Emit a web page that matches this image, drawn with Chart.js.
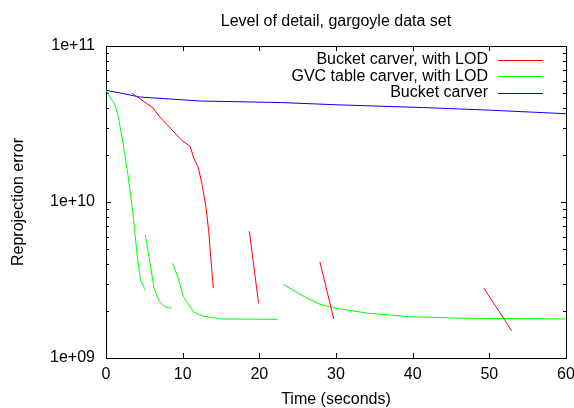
<!DOCTYPE html>
<html>
<head>
<meta charset="utf-8">
<title>Level of detail, gargoyle data set</title>
<script src="https://cdn.jsdelivr.net/npm/chart.js@4.4.1/dist/chart.umd.min.js"></script>
<style>
    html, body { margin: 0; padding: 0; background: #ffffff; }
    #quadro { width: 574px; height: 408px; }
</style>
</head>
<body>
<div id="quadro"><canvas id="graficoLod"></canvas></div>
<script>
"use strict";

/********************************************************************
 * Dados (null separa os trechos de cada série)
 ********************************************************************/
const bucketLodTime  = [3.35, 6.17, 6.8, 9.86, 10.96, 11.48, 12.0, 12.5, 13.04, 13.4, 14.0, null,
                        18.7, 19.9, null,
                        27.9, 29.7, null,
                        49.3, 52.9];
const bucketLodError = [5.0e10, 4.0e10, 3.61e10, 2.49e10, 2.28e10, 1.9e10, 1.68e10, 1.32e10, 9.3e9, 6.46e9, 2.8e9, null,
                        6.5e9, 2.24e9, null,
                        4.14e9, 1.78e9, null,
                        2.8e9, 1.5e9];

const gvcLodTime  = [0, 1.17, 1.6, 2.26, 2.9, 3.56, 4.08, 4.5, 5.08, null,
                     5.13, 5.74, 6.26, 6.96, 7.7, 8.56, null,
                     8.69, 9.43, 10.1, 11.4, 12.5, 14.9, 22.4, null,
                     23.1, 26.2, 27.9, 30.1, 34.4, 39.7, 46.2, 52.0, 60.0];
const gvcLodError = [5.2e10, 4.19e10, 3.52e10, 2.32e10, 1.45e10, 8.05e9, 4.47e9, 3.16e9, 2.76e9, null,
                     6.14e9, 4.05e9, 2.8e9, 2.3e9, 2.13e9, 2.08e9, null,
                     4.05e9, 3.24e9, 2.47e9, 1.98e9, 1.86e9, 1.78e9, 1.77e9, null,
                     2.97e9, 2.42e9, 2.21e9, 2.08e9, 1.93e9, 1.84e9, 1.80e9, 1.79e9, 1.78e9];

const bucketTime  = [0, 1.83, 4.4, 12.3, 22.8, 30, 41.4, 50, 60];
const bucketError = [5.2e10, 5.0e10, 4.71e10, 4.44e10, 4.34e10, 4.2e10, 4.03e10, 3.88e10, 3.68e10];

const seriesLabels = ["Bucket carver, with LOD", "GVC table carver, with LOD", "Bucket carver"];
const seriesColors = ["#ff0000", "#00ff00", "#0000ff"];

const xTicks = [0, 10, 20, 30, 40, 50, 60];
const yDecades = [1e9, 1e10, 1e11];

const FONTE = "'Liberation Sans', Arial, Helvetica, sans-serif";

/********************************************************************
 * Monta pontos {x, y}
 ********************************************************************/
function montarPontos(tempos, erros) {

    return tempos.map((t, i) => ({ x: t, y: erros[i] }));

}

/********************************************************************
 * Moldura e marcas internas (estilo gnuplot)
 ********************************************************************/
const molduraPlugin = {

    id: "moldura",

    beforeDatasetsDraw(chart) {

        const { ctx, chartArea: a, scales } = chart;

        ctx.save();
        ctx.strokeStyle = "#000000";
        ctx.lineWidth = 1;

        ctx.strokeRect(Math.round(a.left) + 0.5, Math.round(a.top) + 0.5,
                       Math.round(a.right - a.left), Math.round(a.bottom - a.top));

        ctx.beginPath();

        xTicks.forEach(v => {
            const px = Math.round(scales.x.getPixelForValue(v)) + 0.5;
            ctx.moveTo(px, a.bottom); ctx.lineTo(px, a.bottom - 5);
            ctx.moveTo(px, a.top);    ctx.lineTo(px, a.top + 5);
        });

        for (let d = 0; d < yDecades.length; d++) {
            for (let m = 1; m <= 9; m++) {
                const v = yDecades[d] * m;
                if (v > yDecades[yDecades.length - 1]) break;
                const py = Math.round(scales.y.getPixelForValue(v)) + 0.5;
                const len = (m === 1) ? 5 : 3;
                ctx.moveTo(a.left, py);  ctx.lineTo(a.left + len, py);
                ctx.moveTo(a.right, py); ctx.lineTo(a.right - len, py);
            }
        }

        ctx.stroke();
        ctx.restore();

    }

};

/********************************************************************
 * Legenda dentro da área (texto à direita, amostra de linha)
 ********************************************************************/
const legendaPlugin = {

    id: "legendaInterna",

    afterDraw(chart) {

        const { ctx, chartArea: a } = chart;

        ctx.save();
        ctx.font = "16px " + FONTE;
        ctx.textAlign = "right";
        ctx.textBaseline = "middle";

        seriesLabels.forEach((rotulo, i) => {

            const y = a.top + 14 + i * 16.3;

            ctx.fillStyle = "#000000";
            ctx.fillText(rotulo, a.right - 78, y);

            ctx.strokeStyle = seriesColors[i];
            ctx.lineWidth = 1;
            ctx.beginPath();
            ctx.moveTo(a.right - 68, Math.round(y) + 0.5);
            ctx.lineTo(a.right - 23, Math.round(y) + 0.5);
            ctx.stroke();

        });

        ctx.restore();

    }

};

/********************************************************************
 * Gráfico
 ********************************************************************/
function criarGrafico() {

    const canvas = document.getElementById("graficoLod");

    if (!canvas) return;

    const estiloLinha = {
        showLine: true,
        borderWidth: 1,
        pointRadius: 0,
        pointHoverRadius: 0,
        tension: 0,
        spanGaps: false,
        fill: false
    };

    new Chart(canvas, {

        type: "scatter",

        data: {

            datasets: [
                Object.assign({
                    label: seriesLabels[0],
                    data: montarPontos(bucketLodTime, bucketLodError),
                    borderColor: seriesColors[0]
                }, estiloLinha),
                Object.assign({
                    label: seriesLabels[1],
                    data: montarPontos(gvcLodTime, gvcLodError),
                    borderColor: seriesColors[1]
                }, estiloLinha),
                Object.assign({
                    label: seriesLabels[2],
                    data: montarPontos(bucketTime, bucketError),
                    borderColor: seriesColors[2]
                }, estiloLinha)
            ]

        },

        options: {

            responsive: true,
            maintainAspectRatio: false,
            animation: false,
            events: [],

            layout: {
                padding: { left: 0, right: 8, top: 0, bottom: 0 }
            },

            plugins: {

                legend: { display: false },

                tooltip: { enabled: false },

                title: {
                    display: true,
                    fullSize: false,
                    text: "Level of detail, gargoyle data set",
                    color: "#000000",
                    font: { family: FONTE, size: 16, weight: "normal", lineHeight: 1.2 },
                    padding: { top: 12.4, bottom: 14.4 }
                }

            },

            scales: {

                x: {
                    type: "linear",
                    min: 0,
                    max: 60,
                    afterFit(scale) {
                        scale.height = 50;
                        scale.paddingLeft = 0;
                        scale.paddingRight = 0;
                    },
                    afterBuildTicks(scale) {
                        scale.ticks = xTicks.map(v => ({ value: v }));
                    },
                    grid: { display: false, drawTicks: false },
                    border: { display: false },
                    ticks: {
                        color: "#000000",
                        font: { family: FONTE, size: 16 },
                        padding: 7,
                        maxRotation: 0,
                        autoSkip: false
                    },
                    title: {
                        display: true,
                        text: "Time (seconds)",
                        color: "#000000",
                        font: { family: FONTE, size: 16, lineHeight: 1 },
                        padding: { top: 0, bottom: 0 }
                    }
                },

                y: {
                    type: "logarithmic",
                    min: 1e9,
                    max: 1e11,
                    afterFit(scale) {
                        scale.width = 106;
                        scale.paddingTop = 0;
                        scale.paddingBottom = 0;
                    },
                    afterBuildTicks(scale) {
                        scale.ticks = yDecades.map(v => ({ value: v, major: true }));
                    },
                    grid: { display: false, drawTicks: false },
                    border: { display: false },
                    ticks: {
                        color: "#000000",
                        font: { family: FONTE, size: 16 },
                        padding: 11,
                        autoSkip: false,
                        callback(v) {
                            const e = Math.round(Math.log10(v));
                            return "1e+" + (e < 10 ? "0" + e : e);
                        }
                    },
                    title: {
                        display: true,
                        text: "Reprojection error",
                        color: "#000000",
                        font: { family: FONTE, size: 16, lineHeight: 1 },
                        padding: { top: 11, bottom: 0 }
                    }
                }

            }

        },

        plugins: [molduraPlugin, legendaPlugin]

    });

}

criarGrafico();
</script>
</body>
</html>
